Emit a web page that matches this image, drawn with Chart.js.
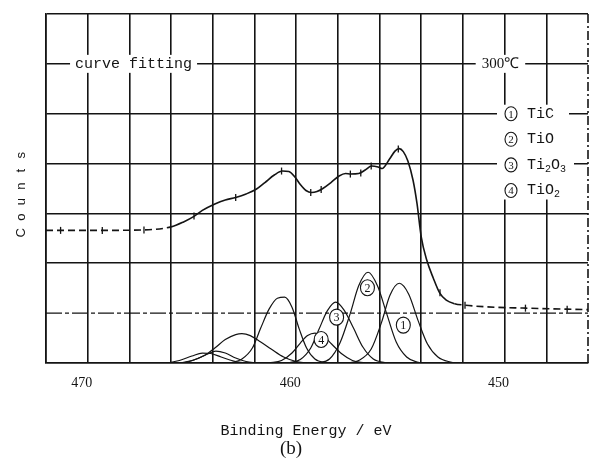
<!DOCTYPE html>
<html><head><meta charset="utf-8">
<script src="https://cdn.jsdelivr.net/npm/chart.js@4.4.1/dist/chart.umd.min.js"></script>
<style>html,body{margin:0;padding:0;background:#fff;}</style>
</head><body>
<canvas id="c" width="600" height="461"></canvas>
<script>
// ---- tick labels ----
const xTickLabels = [470, 460, 450];

// ---- envelope (measured spectrum), binding energy (eV) / counts (a.u.) ----
const env_E = [472.0, 471.3, 469.3, 467.3, 466.0, 465.4, 464.9, 464.5, 463.9, 463.4, 462.9, 462.4, 461.9, 461.5, 461.05, 460.66, 460.35, 460.04, 459.8, 459.53, 459.26, 459.0, 458.72, 458.33, 457.94, 457.63, 457.39, 457.0, 456.69, 456.38, 456.07, 455.88, 455.52, 455.26, 455.06, 454.86, 454.64, 454.39, 454.2, 454.0, 453.74, 453.42, 453.11, 452.8, 452.4, 451.9, 451.0, 449.0, 447.0, 446.0];
const env_I = [2.66, 2.66, 2.66, 2.67, 2.73, 2.83, 2.94, 3.06, 3.19, 3.27, 3.32, 3.39, 3.49, 3.62, 3.77, 3.85, 3.84, 3.72, 3.58, 3.46, 3.42, 3.44, 3.50, 3.62, 3.75, 3.80, 3.79, 3.80, 3.87, 3.95, 3.93, 3.90, 4.09, 4.25, 4.30, 4.24, 4.05, 3.66, 3.19, 2.53, 2.07, 1.70, 1.40, 1.26, 1.19, 1.16, 1.13, 1.10, 1.08, 1.07];

// ---- data point marks on the spectrum ----
const mark_E = [471.3, 469.3, 467.3, 464.9, 462.9, 460.7, 459.3, 458.8, 457.4, 456.9, 456.4, 455.1, 453.1, 451.9, 449.0, 447.0];
const mark_I = [2.66, 2.66, 2.67, 2.95, 3.32, 3.85, 3.42, 3.48, 3.79, 3.81, 3.95, 4.29, 1.41, 1.16, 1.10, 1.08];

// ---- fitted components ----
const c1_E = [457.6, 457.0, 456.4, 455.9, 455.5, 455.05, 454.6, 454.15, 453.7, 453.2, 452.6, 452.2];
const c1_I = [0.0, 0.05, 0.28, 0.82, 1.36, 1.6, 1.38, 0.85, 0.38, 0.12, 0.02, 0.0];
const c2_E = [459.0, 458.4, 457.9, 457.4, 457.0, 456.55, 456.1, 455.65, 455.2, 454.7, 454.2, 453.8];
const c2_I = [0.0, 0.08, 0.4, 1.0, 1.55, 1.82, 1.55, 0.98, 0.42, 0.12, 0.02, 0.0];
const c3_E = [460.4, 459.8, 459.3, 458.9, 458.5, 458.1, 457.7, 457.25, 456.8, 456.3, 455.7, 455.2];
const c3_I = [0.0, 0.07, 0.3, 0.68, 1.05, 1.22, 1.06, 0.7, 0.32, 0.08, 0.01, 0.0];
const c4_E = [461.3, 460.7, 460.2, 459.8, 459.45, 459.1, 458.7, 458.3, 457.8, 457.3, 456.7];
const c4_I = [0.0, 0.05, 0.2, 0.4, 0.55, 0.6, 0.54, 0.38, 0.18, 0.05, 0.0];
const c5_E = [463.2, 462.6, 462.1, 461.7, 461.3, 460.9, 460.55, 460.2, 459.85, 459.5, 459.1, 458.6, 458.2];
const c5_I = [0.0, 0.08, 0.3, 0.7, 1.08, 1.3, 1.32, 1.12, 0.68, 0.3, 0.08, 0.01, 0.0];
const c6_E = [465.6, 465.0, 464.4, 463.9, 463.4, 462.9, 462.6, 462.2, 461.7, 461.2, 460.6, 460.0, 459.5];
const c6_I = [0.0, 0.05, 0.15, 0.3, 0.47, 0.57, 0.59, 0.55, 0.42, 0.28, 0.12, 0.03, 0.0];
const c7_E = [466.2, 465.6, 465.0, 464.5, 464.1, 463.6, 463.0, 462.5];
const c7_I = [0.0, 0.05, 0.14, 0.2, 0.19, 0.12, 0.04, 0.0];
const c8_E = [465.4, 464.9, 464.3, 463.85, 463.4, 462.9, 462.4, 461.9];
const c8_I = [0.0, 0.06, 0.17, 0.24, 0.2, 0.1, 0.03, 0.0];

// ---- component labels (circled numbers) ----
const lab_txt = ['1', '2', '3', '4'];
const lab_E = [454.86, 456.58, 458.06, 458.8];
const lab_I = [0.76, 1.51, 0.92, 0.47];

// ---- legend ----
const legendNum = ['1', '2', '3', '4'];
const legendName = [[['TiC', 0]], [['TiO', 0]], [['Ti', 0], ['2', 1], ['O', 0], ['3', 1]], [['TiO', 0], ['2', 1]]];

const toXY = (E, I) => E.map((e, i) => ({x: e, y: I[i]}));
const INK = '#141414';
const GW = 1.6;

function circled(ctx, cx, cy, t, rx, ry, fs) {
  ctx.save();
  ctx.beginPath();
  ctx.ellipse(cx, cy, rx, ry, 0, 0, Math.PI * 2);
  ctx.fillStyle = '#fff'; ctx.fill();
  ctx.lineWidth = 1.1; ctx.strokeStyle = INK; ctx.stroke();
  ctx.fillStyle = INK;
  ctx.font = fs + 'px "Liberation Serif"';
  ctx.textAlign = 'center'; ctx.textBaseline = 'middle';
  ctx.fillText(t, cx, cy + 1);
  ctx.restore();
}

function boxText(ctx, txt, cx, cy, font, pad) {
  ctx.save();
  ctx.font = font;
  const w = ctx.measureText(txt).width;
  ctx.fillStyle = '#fff';
  ctx.fillRect(cx - w / 2 - pad, cy - 9, w + pad * 2, 18);
  ctx.fillStyle = INK;
  ctx.textAlign = 'center'; ctx.textBaseline = 'middle';
  ctx.fillText(txt, cx, cy);
  ctx.restore();
}

const frame = {
  id: 'frame',
  beforeDatasetsDraw(chart) {
    const {ctx, scales: {x, y}, chartArea: a} = chart;
    ctx.save();
    ctx.strokeStyle = INK;
    // dashed right border
    ctx.lineWidth = GW;
    ctx.setLineDash([9, 3, 2, 3]);
    ctx.beginPath(); ctx.moveTo(a.right, a.top); ctx.lineTo(a.right, a.bottom); ctx.stroke();
    // broken grid line at level 1
    ctx.lineWidth = 1.4;
    ctx.setLineDash([16, 3, 4, 3]);
    const y1 = y.getPixelForValue(1);
    ctx.beginPath(); ctx.moveTo(a.left, y1); ctx.lineTo(a.right, y1); ctx.stroke();
    ctx.restore();
  }
};

const annot = {
  id: 'annot',
  afterDraw(chart) {
    const {ctx, scales: {x, y}, chartArea: a} = chart;
    // in-plot texts on grid line
    boxText(ctx, 'curve fitting', x.getPixelForValue(467.8), y.getPixelForValue(6), '15px "Liberation Mono"', 5);
    boxText(ctx, '300\u2103', x.getPixelForValue(450.2), y.getPixelForValue(6), '15px "Liberation Serif"', 6);
    // legend
    const lx = a.right - 89, y5 = y.getPixelForValue(5);
    ctx.fillStyle = '#fff';
    ctx.fillRect(lx + 4, y5 - 8, 66, 92);
    const dy = 25.6;
    legendNum.forEach((n, i) => {
      const ry = y5 + i * dy;
      let w = 0;
      legendName[i].forEach(([s, sub]) => {
        ctx.font = sub ? '10px "Liberation Mono"' : '15px "Liberation Mono"';
        w += ctx.measureText(s).width;
      });
      ctx.fillStyle = '#fff';
      ctx.fillRect(lx - 2, ry - 9, w + 38, 18);
      circled(ctx, lx + 12, ry, n, 6, 7, 11);
      let tx = lx + 28;
      ctx.fillStyle = INK; ctx.textAlign = 'left'; ctx.textBaseline = 'middle';
      legendName[i].forEach(([s, sub]) => {
        ctx.font = sub ? '10px "Liberation Mono"' : '15px "Liberation Mono"';
        ctx.fillText(s, tx, ry + (sub ? 4 : 0));
        tx += ctx.measureText(s).width;
      });
    });
    // component labels
    lab_txt.forEach((t, i) => {
      circled(ctx, x.getPixelForValue(lab_E[i]), y.getPixelForValue(lab_I[i]), t, 7, 8, 12);
    });
    // axis titles
    ctx.save();
    ctx.fillStyle = INK; ctx.textAlign = 'center'; ctx.textBaseline = 'middle';
    ctx.font = '15px "Liberation Mono"';
    ctx.fillText('Binding Energy / eV', 306, 431);
    ctx.font = '19px "Liberation Serif"';
    ctx.fillText('(b)', 291, 449);
    ctx.translate(21, 194);
    ctx.rotate(-Math.PI / 2);
    ctx.font = '13px "Liberation Sans"';
    const yl = 'Counts';
    yl.split('').forEach((ch, i) => ctx.fillText(ch, (i - 2.5) * 15.5, 0));
    ctx.restore();
  }
};

const comp = (E, I) => ({data: toXY(E, I), borderColor: INK, borderWidth: 1.2, pointRadius: 0, cubicInterpolationMode: 'monotone', fill: false});

new Chart(document.getElementById('c'), {
  type: 'line',
  data: {datasets: [
    {data: toXY(env_E, env_I), borderColor: INK, borderWidth: 1.6, pointRadius: 0, cubicInterpolationMode: 'monotone', fill: false,
     segment: {borderDash: c => (c.p1.parsed.x >= 466.0 || c.p0.parsed.x <= 452.4) ? [7, 4] : undefined}},
    {data: toXY(mark_E, mark_I), showLine: false, pointStyle: 'line', rotation: 90, pointRadius: 3.5, pointBorderColor: INK, pointBorderWidth: 1.3},
    comp(c1_E, c1_I), comp(c2_E, c2_I), comp(c3_E, c3_I), comp(c4_E, c4_I),
    comp(c5_E, c5_I), comp(c6_E, c6_I), comp(c7_E, c7_I), comp(c8_E, c8_I)
  ]},
  options: {
    responsive: false, animation: false, devicePixelRatio: 1,
    layout: {padding: {left: 46, right: 5, top: 14, bottom: 0}},
    plugins: {legend: {display: false}, tooltip: {enabled: false}, title: {display: false}},
    scales: {
      x: {type: 'linear', reverse: true, min: 446, max: 472,
          afterFit: s => { s.height = 98; },
          ticks: {stepSize: 2, autoSkip: false, maxRotation: 0, padding: 12, labelOffset: -6, color: INK,
                  font: {family: 'Liberation Serif', size: 14},
                  callback: v => xTickLabels.includes(v) ? String(v) : ''},
          grid: {color: INK, lineWidth: c => (c.tick && c.tick.value === 446) ? 0 : GW, drawTicks: false},
          border: {color: INK, width: GW}},
      y: {min: 0, max: 7, afterFit: s => { s.width = 0; },
          ticks: {stepSize: 1, display: false},
          grid: {color: INK, lineWidth: c => (c.tick && c.tick.value === 1) ? 0 : GW, drawTicks: false},
          border: {color: INK, width: GW}}
    }
  },
  plugins: [frame, annot]
});
</script>
</body></html>
